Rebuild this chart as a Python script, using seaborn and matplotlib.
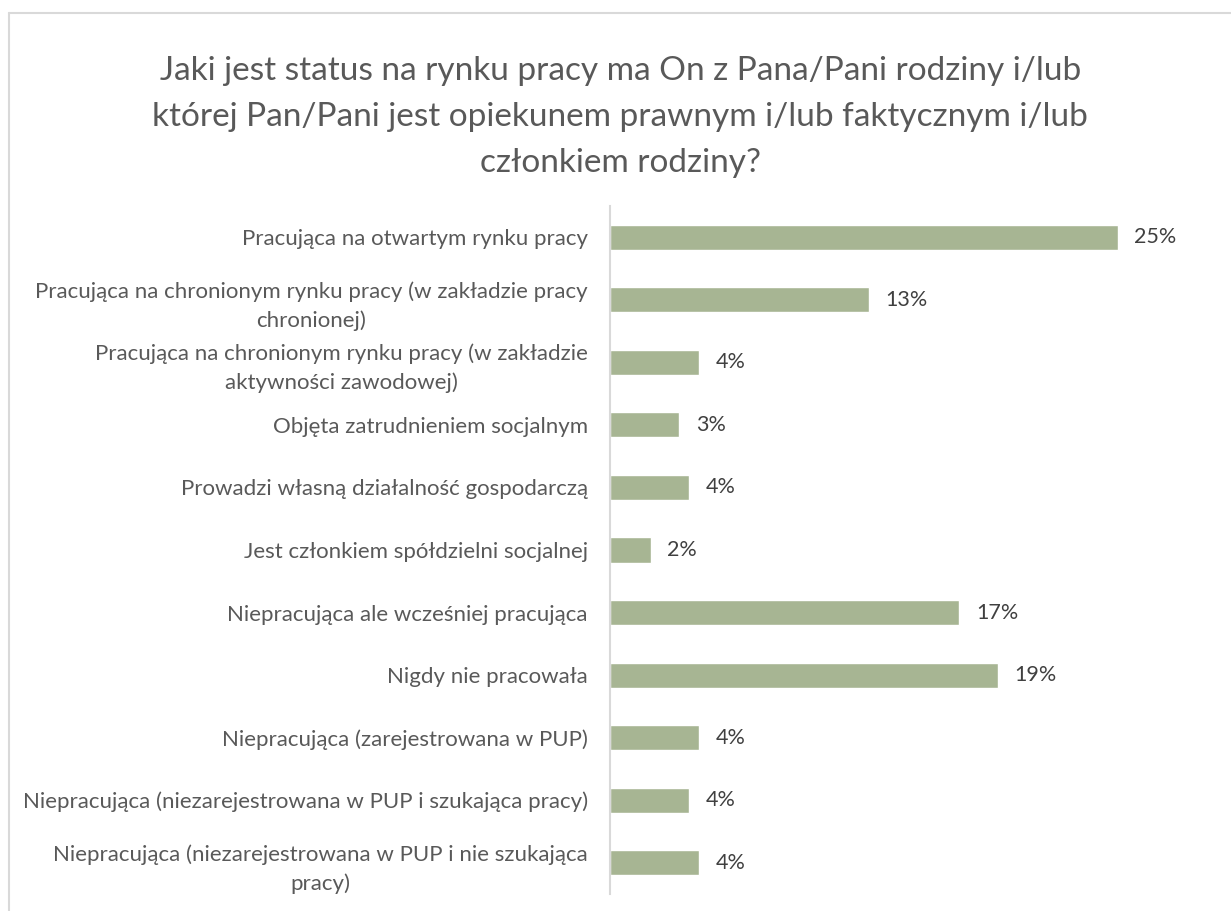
import matplotlib
matplotlib.use("Agg")
import matplotlib.pyplot as plt
from matplotlib.lines import Line2D
import seaborn as sns
import pandas as pd

title = ("Jaki jest status na rynku pracy ma On z Pana/Pani rodziny i/lub\n"
         "której Pan/Pani jest opiekunem prawnym i/lub faktycznym i/lub\n"
         "członkiem rodziny?")

categories = [
    "Pracująca na otwartym rynku pracy",
    "Pracująca na chronionym rynku pracy (w zakładzie pracy\nchronionej)",
    "Pracująca na chronionym rynku pracy (w zakładzie\naktywności zawodowej)",
    "Objęta zatrudnieniem socjalnym",
    "Prowadzi własną działalność gospodarczą",
    "Jest członkiem spółdzielni socjalnej",
    "Niepracująca ale wcześniej pracująca",
    "Nigdy nie pracowała",
    "Niepracująca (zarejestrowana w PUP)",
    "Niepracująca (niezarejestrowana w PUP i szukająca pracy)",
    "Niepracująca (niezarejestrowana w PUP i nie szukająca\npracy)",
]
values = [25.0, 12.75, 4.4, 3.4, 3.9, 2.0, 17.2, 19.1, 4.4, 3.9, 4.4]
value_labels = ["25%", "13%", "4%", "3%", "4%", "2%", "17%", "19%", "4%", "4%", "4%"]

sns.set_theme(style="white")
plt.rcParams["font.family"] = ["Lato", "DejaVu Sans"]

df = pd.DataFrame({"category": categories, "value": values})

fig = plt.figure(figsize=(12.31, 9.11), dpi=100)
ax = fig.add_axes([610 / 1231, 1 - 894 / 911, (1203 - 610) / 1231, (894 - 206) / 911])

sns.barplot(data=df, x="value", y="category", color="#A7B593", saturation=1,
            width=0.4, orient="h", ax=ax)

ax.set_xlim(0, 29.2)
ax.set_xlabel("")
ax.set_ylabel("")
ax.set_xticks([])
for s in ["top", "right", "bottom"]:
    ax.spines[s].set_visible(False)
ax.spines["left"].set_color("#D9D9D9")
ax.spines["left"].set_linewidth(1.5)
ax.tick_params(axis="y", length=0, pad=16, labelsize=16, labelcolor="#595959")
for lbl in ax.get_yticklabels():
    lbl.set_multialignment("center")
    lbl.set_linespacing(1.5)

ax.bar_label(ax.containers[0], labels=value_labels, padding=12,
             fontsize=15.5, color="#404040")

fig.text(0.504, 0.939, title, ha="center", va="top", fontsize=24,
         color="#595959", linespacing=1.68)

# chart border (light gray frame)
fig.add_artist(Line2D([8.5 / 1231, 8.5 / 1231], [0, 1 - 12.5 / 911],
                      color="#D9D9D9", lw=1.5, transform=fig.transFigure))
fig.add_artist(Line2D([8.5 / 1231, 1], [1 - 12.5 / 911, 1 - 12.5 / 911],
                      color="#D9D9D9", lw=1.5, transform=fig.transFigure))

fig.savefig("out.png", dpi=100, facecolor="white")
